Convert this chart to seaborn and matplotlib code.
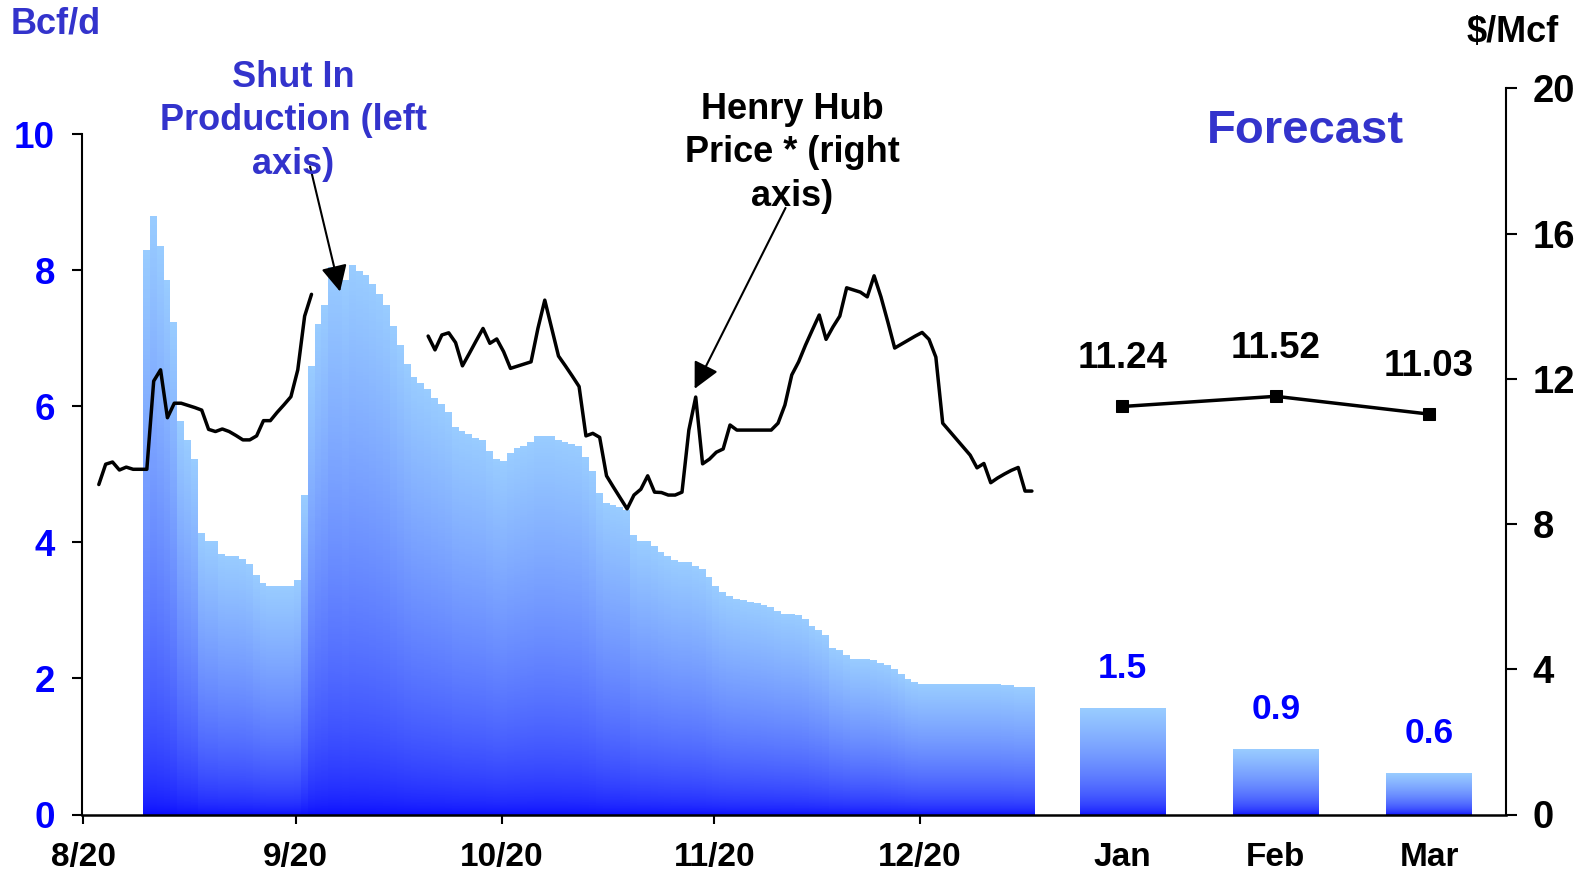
import numpy as np
import pandas as pd
import matplotlib
matplotlib.use("Agg")
import matplotlib.pyplot as plt
import seaborn as sns
from matplotlib.colors import LinearSegmentedColormap

# ---------------- data ----------------
base_date = pd.Timestamp("2005-08-20")

shut_in_start = "2005-08-29"
shut_in = [8.30, 8.80, 8.36, 7.86, 7.24, 5.79, 5.51, 5.23, 4.14, 4.03,
           4.03, 3.83, 3.80, 3.80, 3.77, 3.69, 3.52, 3.41, 3.36, 3.36,
           3.36, 3.36, 3.46, 4.70, 6.60, 7.21, 7.49, 8.06, 8.05, 7.86,
           8.08, 7.99, 7.93, 7.80, 7.65, 7.49, 7.18, 6.90, 6.63, 6.43,
           6.35, 6.26, 6.13, 6.04, 5.92, 5.70, 5.64, 5.60, 5.54, 5.51,
           5.35, 5.23, 5.20, 5.32, 5.39, 5.42, 5.48, 5.57, 5.57, 5.57,
           5.51, 5.48, 5.45, 5.42, 5.26, 5.05, 4.73, 4.58, 4.55, 4.52,
           4.49, 4.11, 4.02, 4.02, 3.95, 3.86, 3.80, 3.74, 3.71, 3.71,
           3.65, 3.61, 3.49, 3.36, 3.27, 3.21, 3.18, 3.15, 3.13, 3.11,
           3.08, 3.05, 3.00, 2.96, 2.96, 2.93, 2.88, 2.77, 2.71, 2.64,
           2.46, 2.43, 2.35, 2.30, 2.30, 2.30, 2.27, 2.24, 2.21, 2.14,
           2.07, 1.99, 1.96, 1.93, 1.93, 1.93, 1.93, 1.93, 1.93, 1.93,
           1.93, 1.93, 1.93, 1.93, 1.93, 1.91, 1.91, 1.88, 1.88, 1.88]

price_seg1_start = "2005-08-22"
price_seg1 = [9.09, 9.65, 9.71, 9.49, 9.57, 9.51, 9.51, 9.51, 11.94, 12.25,
              10.93, 11.33, 11.33, 11.27, 11.21, 11.14, 10.61, 10.55, 10.62, 10.55,
              10.44, 10.32, 10.32, 10.43, 10.85, 10.85, 11.08, 11.29, 11.51, 12.25,
              13.73, 14.33]

price_seg2_start = "2005-10-09"
price_seg2 = [13.18, 12.80, 13.21, 13.27, 13.00, 12.36, 12.70, 13.05, 13.39, 12.98,
              13.10, 12.75, 12.29, 12.35, 12.41, 12.47, 13.39, 14.17, 13.40, 12.63,
              12.36, 12.08, 11.79, 10.43, 10.50, 10.39, 9.33, 9.02, 8.72, 8.42,
              8.80, 8.96, 9.33, 8.88, 8.87, 8.80, 8.80, 8.88, 10.59, 11.50,
              9.66, 9.79, 9.98, 10.07, 10.73, 10.59, 10.59, 10.59, 10.59, 10.59,
              10.59, 10.78, 11.28, 12.11, 12.47, 12.93, 13.35, 13.76, 13.09, 13.43,
              13.73, 14.51, 14.45, 14.39, 14.26, 14.84, 14.26, 13.57, 12.85, 12.96,
              13.07, 13.18, 13.28, 13.09, 12.60, 10.78, 10.56, 10.34, 10.12, 9.90,
              9.55, 9.67, 9.14, 9.27, 9.38, 9.48, 9.56, 8.91, 8.91]

date_tick_dates = ["2005-08-20", "2005-09-20", "2005-10-20", "2005-11-20", "2005-12-20"]
date_tick_labels = ["8/20", "9/20", "10/20", "11/20", "12/20"]

forecast_months = ["Jan", "Feb", "Mar"]
forecast_shut_in = [1.56, 0.96, 0.61]
forecast_shut_in_labels = ["1.5", "0.9", "0.6"]
forecast_price = [11.24, 11.52, 11.03]

# ---------------- style ----------------
sns.set_style("white")
plt.rcParams["font.family"] = ["Liberation Sans", "DejaVu Sans"]
plt.rcParams["font.weight"] = "bold"

BLUE_TXT = "#3333CC"
BLUE = "#0000FF"
cmap = LinearSegmentedColormap.from_list("shutin", ["#0505FF", "#99CCFF"])

W, H = 1589, 874
fig = plt.figure(figsize=(W / 100, H / 100), dpi=100)
left_px, right_px, bottom_px, top_px = 82, 1506, 814.5, 88.5
ax = fig.add_axes([left_px / W, 1 - bottom_px / H,
                   (right_px - left_px) / W, (bottom_px - top_px) / H])
ax2 = ax.twinx()

def day_offset(start, n):
    return (pd.date_range(start, periods=n) - base_date).days.values.astype(float)

# ---------------- daily shut-in bars (gradient) ----------------
vals = np.array(shut_in)
xd = day_offset(shut_in_start, len(vals))
ax.bar(xd, vals, width=1.0, color="none", linewidth=0)
ymax = vals.max()
nrows = 1600
yc = (np.arange(nrows) + 0.5) / nrows * ymax
T = yc[:, None] / vals[None, :]
img = np.ma.masked_where(T > 1, np.sqrt(np.clip(T, 0, 1)))
ax.imshow(img, extent=[xd[0] - 0.5, xd[-1] + 0.5, 0, ymax], origin="lower",
          cmap=cmap, vmin=0, vmax=1, aspect="auto", interpolation="nearest", zorder=1.5)

# ---------------- forecast bars ----------------
fc_x = 151.2 + 22.35 * np.arange(len(forecast_months))
fc_w = 12.5
ax.bar(fc_x, forecast_shut_in, width=fc_w, color="none", linewidth=0)
grad = np.sqrt((np.arange(300) + 0.5) / 300)[:, None]
for x, h, lbl in zip(fc_x, forecast_shut_in, forecast_shut_in_labels):
    ax.imshow(grad, extent=[x - fc_w / 2, x + fc_w / 2, 0, h], origin="lower",
              cmap=cmap, vmin=0, vmax=1, aspect="auto", interpolation="bilinear", zorder=1.5)
    ax.annotate(lbl, (x, h), xytext=(0, 28.5), textcoords="offset points",
                ha="center", va="center", fontsize=25.5, fontweight="bold", color=BLUE)

# ---------------- price lines ----------------
for start, seg in [(price_seg1_start, price_seg1), (price_seg2_start, price_seg2)]:
    d = day_offset(start, len(seg))
    sns.lineplot(x=d, y=seg, ax=ax2, color="black", linewidth=2.5,
                 estimator=None, sort=False)
sns.lineplot(x=fc_x, y=forecast_price, ax=ax2, color="black", linewidth=2.5,
             marker="s", markersize=9, markeredgecolor="black", estimator=None, sort=False)
for x, p in zip(fc_x, forecast_price):
    ax2.annotate(f"{p:.2f}", (x, p), xytext=(0, 34.5), textcoords="offset points",
                 ha="center", va="center", fontsize=26.5, fontweight="bold", color="black")

# ---------------- axes ----------------
ax.set_xlim(-0.45, 207.1)
ax.set_ylim(0, 10.676)
ax2.set_ylim(0, 20)
ax.set_ylabel("")
ax2.set_ylabel("")

for a in (ax, ax2):
    a.grid(False)
    a.spines["top"].set_visible(False)
ax.spines["right"].set_visible(False)
ax2.spines["left"].set_visible(False)
ax2.spines["bottom"].set_visible(False)
ax.spines["left"].set_bounds(0, 10)
ax.spines["left"].set_linewidth(1.5)
ax2.spines["right"].set_linewidth(1.5)
ax.spines["bottom"].set_linewidth(1.8)
for s in ("left", "bottom"):
    ax.spines[s].set_color("black")
ax2.spines["right"].set_color("black")

ax.set_yticks(np.arange(0, 11, 2))
ax.set_yticklabels([str(v) for v in range(0, 11, 2)])
ax.tick_params(axis="y", direction="out", length=7.5, width=1.5, color="black",
               labelsize=26.5, labelcolor=BLUE, pad=12, left=True)
ax2.set_yticks(np.arange(0, 21, 4))
ax2.set_yticklabels([str(v) for v in range(0, 21, 4)])
ax2.tick_params(axis="y", direction="out", length=8, width=1.5, color="black",
                labelsize=27.5, labelcolor="black", pad=11, right=True)

tick_days = (pd.to_datetime(date_tick_dates) - base_date).days.values - 0.3
ax.set_xticks(list(tick_days) + list(fc_x))
ax.set_xticklabels(date_tick_labels + forecast_months)
ax.tick_params(axis="x", direction="out", length=6.5, width=1.5, color="black",
               labelsize=24, labelcolor="black", pad=13, bottom=True)
for lbl in ax.get_xticklabels():
    lbl.set_fontweight("bold")
for t in ax.xaxis.get_major_ticks()[len(date_tick_labels):]:
    t.tick1line.set_visible(False)

# ---------------- annotations ----------------
fig.text(56 / W, 1 - 24.3 / H, "Bcf/d", ha="center", va="center",
         color=BLUE_TXT, fontsize=26, fontweight="bold")
fig.text(1513 / W, 1 - 32.4 / H, "$/Mcf", ha="center", va="center",
         color="black", fontsize=26, fontweight="bold")
fig.text(293 / W, 1 - 121 / H, "Shut In\nProduction (left\naxis)", ha="center",
         va="center", multialignment="center", linespacing=1.33,
         color=BLUE_TXT, fontsize=26, fontweight="bold")
fig.text(792 / W, 1 - 153 / H, "Henry Hub\nPrice * (right\naxis)", ha="center",
         va="center", multialignment="center", linespacing=1.33,
         color="black", fontsize=26, fontweight="bold")
fig.text(1305 / W, 1 - 131 / H, "Forecast", ha="center", va="center",
         color=BLUE_TXT, fontsize=34, fontweight="bold")

arrow_kw = dict(arrowstyle="-|>,head_length=0.8,head_width=0.4", color="black",
                lw=1.5, shrinkA=0, shrinkB=0, mutation_scale=20)
ax.annotate("", xy=(37.16, 7.69), xytext=(32.79, 9.53), arrowprops=arrow_kw, zorder=5)
ax.annotate("", xy=(88.84, 6.26), xytext=(102.09, 8.92), arrowprops=arrow_kw, zorder=5)

fig.savefig("out.png", dpi=100)
